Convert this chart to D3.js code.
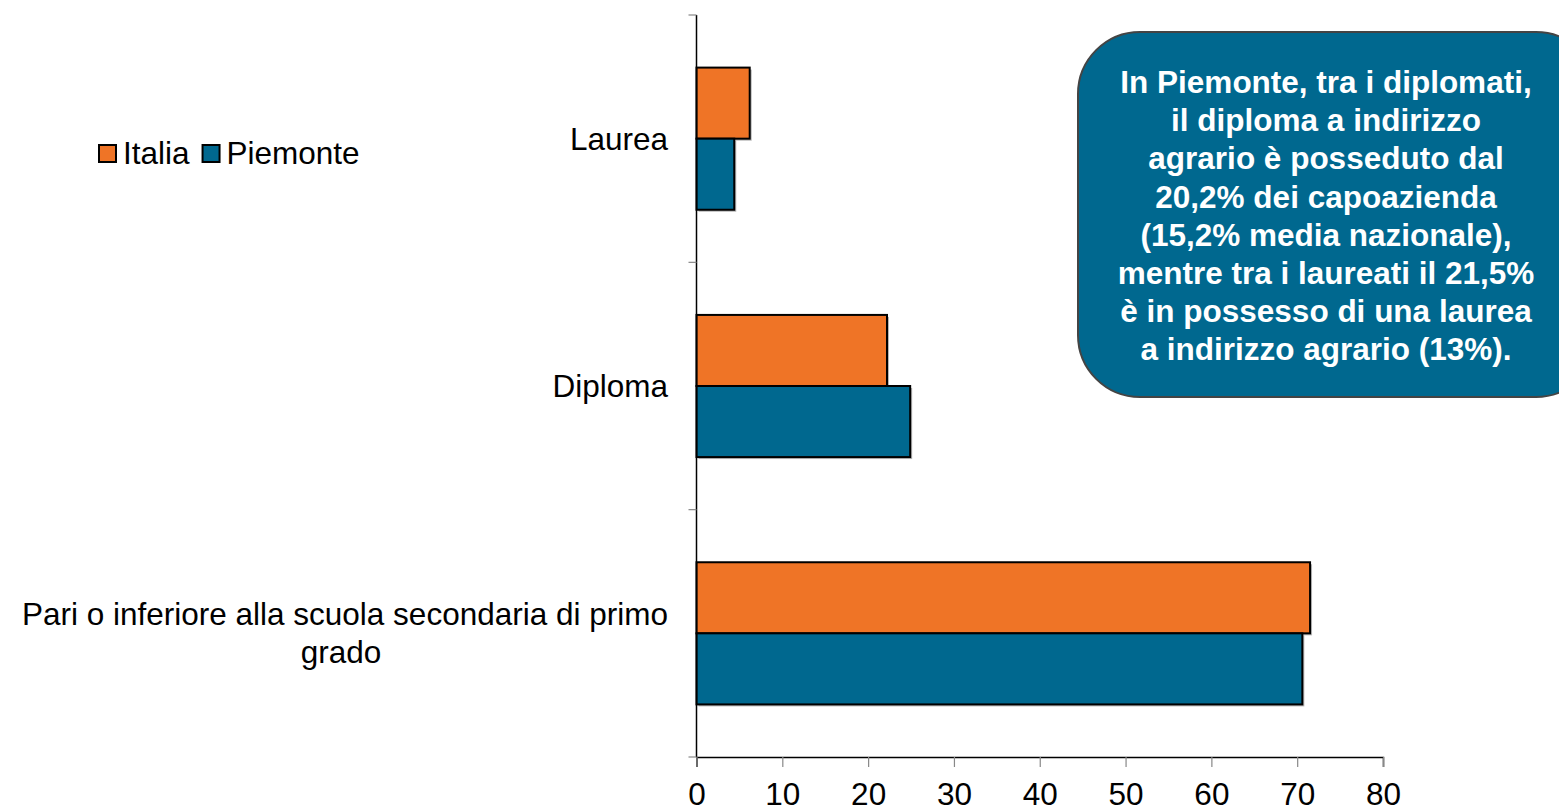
<!DOCTYPE html>
<html>
<head>
<meta charset="utf-8">
<script src="https://cdn.jsdelivr.net/npm/d3@7"></script>
<style>
  html, body { margin: 0; padding: 0; background: #fff; }
  svg { display: block; font-family: "Liberation Sans", Arial, sans-serif; }
</style>
</head>
<body>
<svg id="chart" width="1559" height="808"></svg>
<script>
// categorie (dall'alto verso il basso) e valori %
const categories = ["Laurea", "Diploma", "Pari o inferiore alla scuola secondaria di primo grado"];
const seriesNames = ["Italia", "Piemonte"];
const italia = [6.2, 22.2, 71.5];
const piemonte = [4.4, 24.9, 70.6];
const xTicks = [0, 10, 20, 30, 40, 50, 60, 70, 80];
const noteLines = [
  "In Piemonte, tra i diplomati,",
  "il diploma a indirizzo",
  "agrario è posseduto  dal",
  "20,2% dei capoazienda",
  "(15,2% media nazionale),",
  "mentre tra i laureati il 21,5%",
  "è in possesso di una laurea",
  "a indirizzo agrario (13%)."
];

const COLORS = { Italia: "#EF7426", Piemonte: "#00688F" };
const FS = 31.5;

const svg = d3.select("#chart");
const plotL = 696.5, plotR = 1383, plotT = 15, plotB = 757;

const x = d3.scaleLinear().domain([0, 80]).range([plotL, plotR]);
const y = d3.scaleBand().domain(categories).range([plotT, plotB]).paddingInner(0).paddingOuter(0);
const inner = d3.scaleBand().domain(seriesNames).range([0, y.bandwidth()]).paddingInner(0).paddingOuter(0.74);

const rows = categories.map((c, i) => ({ cat: c, Italia: italia[i], Piemonte: piemonte[i] }));

// barre (con ombra)
const g = svg.append("g");
rows.forEach(r => {
  seriesNames.forEach(s => {
    const bx = x(0), by = y(r.cat) + inner(s), bw = x(r[s]) - x(0), bh = inner.bandwidth();
    g.append("rect").attr("x", bx + 2).attr("y", by + 2).attr("width", bw).attr("height", bh)
      .attr("fill", "#b5b5b5");
    g.append("rect").attr("x", bx).attr("y", by).attr("width", bw).attr("height", bh)
      .attr("fill", COLORS[s]).attr("stroke", "#000").attr("stroke-width", 2);
  });
});

// asse x
const xAxis = svg.append("g").attr("transform", `translate(0,${plotB})`)
  .call(d3.axisBottom(x).tickValues(xTicks).tickSize(10).tickPadding(16));
xAxis.select(".domain").attr("stroke", "#000").attr("stroke-width", 1.5);
xAxis.selectAll(".tick line").attr("stroke", "#888").attr("stroke-width", 1.2);
xAxis.selectAll("text").attr("font-size", FS).attr("fill", "#000")
  .attr("font-family", "'Liberation Sans', Arial, sans-serif");

// asse y (linea + tacche tra le categorie)
const yEdges = [plotT].concat(categories.map(c => y(c) + y.bandwidth()));
svg.append("line").attr("x1", plotL).attr("x2", plotL).attr("y1", plotT).attr("y2", plotB)
  .attr("stroke", "#000").attr("stroke-width", 1.5);
svg.append("g").selectAll("line").data(yEdges).join("line")
  .attr("x1", plotL - 8).attr("x2", plotL).attr("y1", d => d).attr("y2", d => d)
  .attr("stroke", "#888").attr("stroke-width", 1.2);

// etichette categorie
const labelLines = {
  "Laurea": ["Laurea"],
  "Diploma": ["Diploma"],
  "Pari o inferiore alla scuola secondaria di primo grado": ["Pari o inferiore alla scuola secondaria di primo", "grado"]
};
categories.forEach(c => {
  const lines = labelLines[c];
  const cy = y(c) + y.bandwidth() / 2;
  const lh = 38;
  const t = svg.append("text").attr("font-size", FS).attr("fill", "#000");
  if (lines.length === 1) {
    t.append("tspan").attr("x", 668).attr("y", cy + 11).attr("text-anchor", "end").text(lines[0]);
  } else {
    t.append("tspan").attr("x", 668).attr("y", cy - 8).attr("text-anchor", "end").text(lines[0]);
    t.append("tspan").attr("x", 341).attr("y", cy - 8 + lh).attr("text-anchor", "middle").text(lines[1]);
  }
});

// legenda
const leg = svg.append("g").attr("transform", "translate(99,145)");
let lx = 0;
seriesNames.forEach(s => {
  leg.append("rect").attr("x", lx).attr("y", 0).attr("width", 17).attr("height", 17)
    .attr("fill", COLORS[s]).attr("stroke", "#000").attr("stroke-width", 2);
  const t = leg.append("text").attr("x", lx + 24).attr("y", 19).attr("font-size", FS).text(s);
  lx += 24 + t.node().getComputedTextLength() + 13;
});

// riquadro nota
svg.append("rect").attr("x", 1078).attr("y", 32).attr("width", 520).attr("height", 365)
  .attr("rx", 62).attr("ry", 62).attr("fill", "#00688F").attr("stroke", "#444").attr("stroke-width", 2);
svg.append("text").attr("font-size", FS).attr("font-weight", "bold").attr("fill", "#fff")
  .attr("text-anchor", "middle")
  .selectAll("tspan").data(noteLines).join("tspan")
  .attr("x", 1326).attr("y", (d, i) => 93 + i * 38.2).text(d => d);
</script>
</body>
</html>
